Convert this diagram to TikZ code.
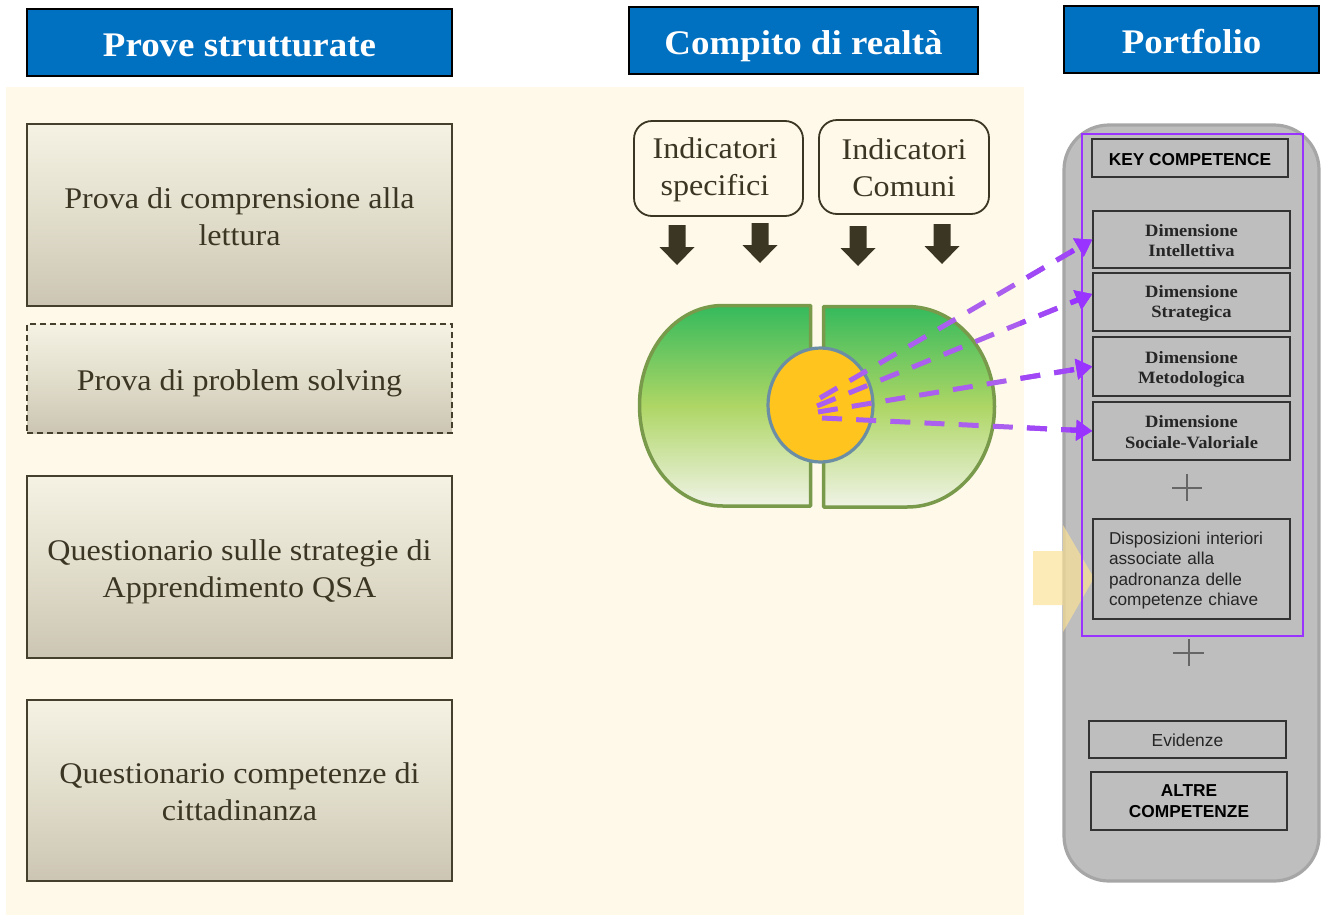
\documentclass[tikz,border=0pt]{standalone}
\usepackage{fontspec}
\setmainfont[FakeStretch=1.07]{Liberation Serif}
\setsansfont{Liberation Sans}
\usetikzlibrary{arrows.meta,shapes.geometric}
\definecolor{bgcream}{HTML}{FFF9E9}
\definecolor{hblue}{HTML}{0070C0}
\definecolor{inkbrown}{HTML}{3B3524}
\definecolor{edgebrown}{HTML}{453F2E}
\definecolor{purp}{HTML}{9933FF}
\definecolor{purplight}{HTML}{AA5FEE}
\definecolor{purpmid}{HTML}{A048F6}
\definecolor{grayfill}{HTML}{BEBEBE}
\definecolor{grayedge}{HTML}{A6A6A6}
\definecolor{greenedge}{HTML}{789A4A}
\tikzset{
  header/.style={draw=black,fill=hblue,line width=1.8pt,text=white,font=\fontsize{34.5}{38}\selectfont\bfseries,inner sep=0pt,text height=27pt,text depth=0pt},
  prova/.style={draw=edgebrown,line width=1.8pt,
    top color={rgb,255:red,245;green,242;blue,228},bottom color={rgb,255:red,204;green,197;blue,180},
    middle color={rgb,255:red,226;green,222;blue,204},
    text=inkbrown,font=\fontsize{30}{37}\selectfont,align=center,inner sep=0pt,text height=60pt,text depth=0pt},
  indic/.style={draw=inkbrown,fill=bgcream,line width=1.8pt,rounded corners=18pt,text=inkbrown,font=\fontsize{30}{37}\selectfont,align=center,inner sep=0pt,text depth=0pt},
  halfshape/.style={draw=greenedge,line width=3.5pt,line join=round,
    top color={rgb,255:red,53;green,186;blue,92},bottom color={rgb,255:red,240;green,243;blue,230},middle color={rgb,255:red,174;green,214;blue,101}},
  coreshape/.style={ellipse,draw={rgb,255:red,108;green,142;blue,164},line width=3.2pt,fill={rgb,255:red,255;green,196;blue,30},inner sep=0pt},
  dimbox/.style={draw=black!80,line width=1.5pt,text=black!85,font=\fontsize{17.3}{20.5}\selectfont\bfseries,align=center,inner sep=0pt,text height=34pt,text depth=0pt},
  sansbold/.style={draw=black!80,line width=1.5pt,text=black,font=\sffamily\bfseries\fontsize{17.3}{20.5}\selectfont,align=center,inner sep=0pt,text height=14pt,text depth=0pt},
  dispbox/.style={draw=black!80,line width=1.5pt,text=black!85,font=\sffamily\fontsize{17.2}{20.6}\selectfont,align=left,inner xsep=16pt,inner ysep=0pt,text width=165pt,text height=0pt,text depth=50pt},
  evbox/.style={draw=black!80,line width=1.5pt,text=black!85,font=\sffamily\fontsize{17.4}{20}\selectfont,inner sep=0pt,text height=13pt,text depth=0pt},
  dashlink/.style={line width=5pt,dash pattern=on 20pt off 14.2pt,-{Triangle[length=16pt,width=20pt]}},
  plusmark/.style={draw=black!60,line width=1.1pt},
  downarrow/.pic={\fill[inkbrown] (-8.5,0)--(8.5,0)--(8.5,22)--(17.5,22)--(0,40)--(-17.5,22)--(-8.5,22)--cycle;}
}
\begin{document}
\begin{tikzpicture}[x=1pt,y=-1pt]
\useasboundingbox (0,0) rectangle (1324,916);
\fill[white] (0,0) rectangle (1324,916);
\fill[bgcream] (6,87) rectangle (1024,915);

% headers
\node[header,minimum width=425,minimum height=67] (h1) at (239.5,42.5) {Prove strutturate};
\node[header,minimum width=349,minimum height=67] (h2) at (803.5,40.5) {Compito di realtà};
\node[header,minimum width=255,minimum height=67] (h3) at (1191.5,39.5) {Portfolio};

% left column
\node[prova,minimum width=425,minimum height=182] (p1) at (239.5,215) {Prova di comprensione alla\\lettura};
\node[prova,text height=24pt,dash pattern=on 6pt off 4pt,minimum width=425,minimum height=109] (p2) at (239.5,378.5) {Prova di problem solving};
\node[prova,minimum width=425,minimum height=182] (p3) at (239.5,567) {Questionario sulle strategie di\\Apprendimento QSA};
\node[prova,minimum width=425,minimum height=181] (p4) at (239.5,790.5) {Questionario competenze di\\cittadinanza};

% indicators
\node[indic,text height=53pt,minimum width=169,minimum height=95] (i1) at (718.5,168.5) {Indicatori\hspace*{7pt}\\specifici\hspace*{7pt}};
\node[indic,text height=59pt,minimum width=170,minimum height=94] (i2) at (904,167) {Indicatori\\Comuni};
\pic at (677,225) {downarrow};
\pic at (760,223) {downarrow};
\pic at (858,226) {downarrow};
\pic at (942,224) {downarrow};

% split capsule
\path[halfshape] (810.5,305.5) -- (723,305.5) .. controls (676,305.5) and (639.5,350) .. (639.5,405.5)
  .. controls (639.5,461) and (676,506) .. (723,506) -- (810.5,506) -- cycle;
\path[halfshape] (823.5,306.5) -- (907,306.5) .. controls (956,306.5) and (994.5,351) .. (994.5,406.5)
  .. controls (994.5,462) and (956,507) .. (907,507) -- (823.5,507) -- cycle;
\node[coreshape,minimum width=105,minimum height=114] (core) at (820.5,405) {};

% portfolio panel
\path[draw=grayedge,fill=grayfill,line width=3.2pt,rounded corners=45pt] (1064,125) rectangle (1319,881);
\path[fill={rgb,255:red,252;green,225;blue,149},fill opacity=.67]
  (1033,551) -- (1063,551) -- (1063,525) -- (1094,578) -- (1063,632) -- (1063,605) -- (1033,605) -- cycle;
\node[sansbold,minimum width=196,minimum height=38] (k) at (1190,158) {KEY COMPETENCE};
\node[dimbox,minimum width=197,minimum height=57] (d1) at (1191.5,239.5) {Dimensione\\Intellettiva};
\node[dimbox,text height=31pt,minimum width=197,minimum height=58] (d2) at (1191.5,302) {Dimensione\\Strategica};
\node[dimbox,minimum width=197,minimum height=59] (d3) at (1191.5,366.5) {Dimensione\\Metodologica};
\node[dimbox,minimum width=197,minimum height=58] (d4) at (1191.5,431) {Dimensione\\Sociale-Valoriale};
\node[dispbox,minimum height=100] (dp) at (1191.5,569) {Disposizioni interiori\\associate alla\\padronanza delle\\competenze chiave};
\node[evbox,minimum width=197,minimum height=37] (ev) at (1187.5,739.5) {Evidenze};
\node[sansbold,text height=32pt,minimum width=196,minimum height=58] (al) at (1189,801) {ALTRE\\COMPETENZE};
\draw[purp,line width=1.8pt] (1082,134) rectangle (1303,636);
\draw[plusmark] (1172,488) -- (1202,488) (1187,474) -- (1187,501);
\draw[plusmark] (1173,653) -- (1204,653) (1189,639) -- (1189,666);

% dashed connectors: the purple deepens toward the tip
\coordinate (s1) at (820,398);
\coordinate (s2) at (817,406);
\coordinate (s3) at (818,412);
\coordinate (s4) at (822,418);
\coordinate (e1) at (d1.west);
\coordinate (e2) at ([yshift=8pt]d2.west);
\coordinate (e3) at (d3.west);
\coordinate (e4) at (d4.west);
\foreach \xfrom/\col in {800/purplight,1020/purpmid,1070/purp}{
  \begin{scope}
    \clip (\xfrom,200) rectangle (1110,460);
    \draw[dashlink,color=\col] (s1) -- (e1);
    \draw[dashlink,color=\col] (s2) -- (e2);
    \draw[dashlink,color=\col] (s3) -- (e3);
    \draw[dashlink,color=\col] (s4) -- (e4);
  \end{scope}
}
\end{tikzpicture}
\end{document}
